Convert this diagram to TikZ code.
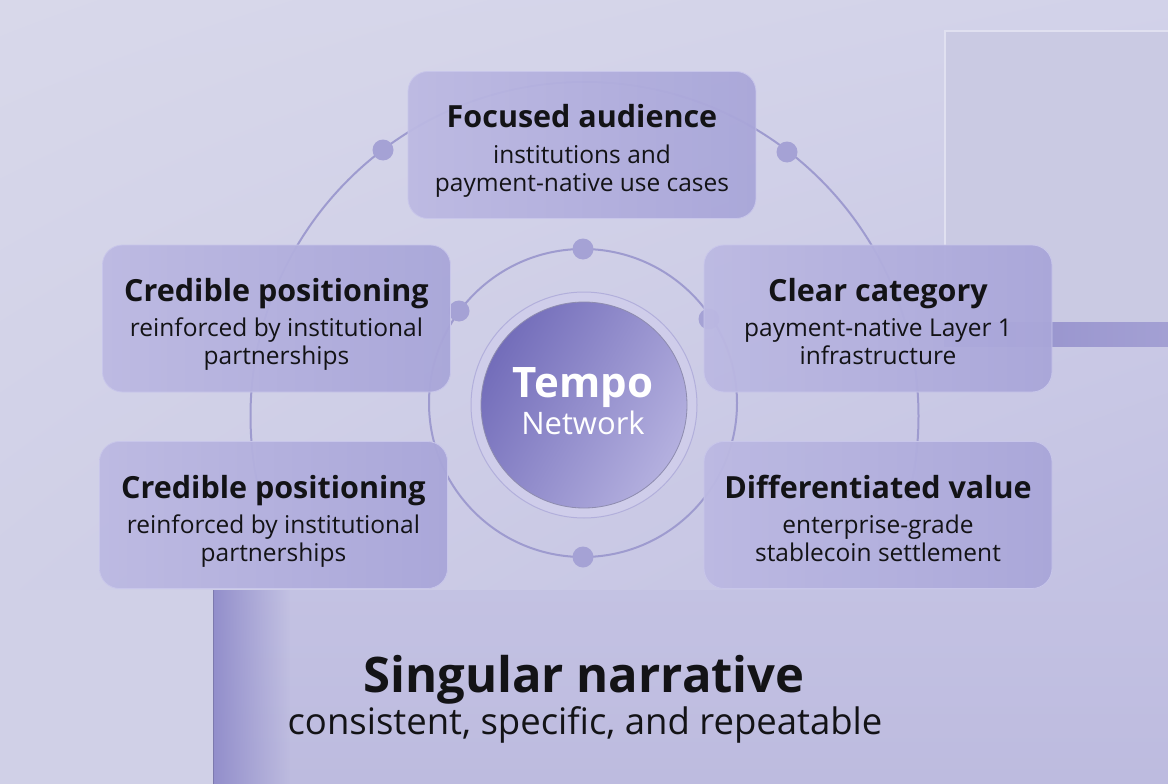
\documentclass[tikz,border=0pt]{standalone}
\usepackage{fontspec}
\setmainfont{Open Sans}
\usetikzlibrary{calc,shadings,fadings}
\definecolor{bgTL}{HTML}{D8D8EA}
\definecolor{bgTR}{HTML}{D2D2E9}
\definecolor{bgBL}{HTML}{CDCDE6}
\definecolor{bgBR}{HTML}{BDBBE0}
\definecolor{panelA}{HTML}{CACAE3}
\definecolor{panelB}{HTML}{BDBBDF}
\definecolor{panelEdge}{HTML}{E0E0F0}
\definecolor{shadowc}{HTML}{928ECB}
\definecolor{ringc}{HTML}{9E9BCF}
\definecolor{dotc}{HTML}{A5A2D5}
\definecolor{cardL}{HTML}{BCB9E2}
\definecolor{cardR}{HTML}{A9A6D9}
\definecolor{cardEdge}{HTML}{C8C6EA}
\definecolor{ink}{HTML}{131316}
\definecolor{rimc}{HTML}{CFCDEA}
\definecolor{rimEdge}{HTML}{B2AFDB}
\definecolor{discA}{HTML}{736DBA}
\definecolor{discB}{HTML}{B4B0DF}
\begin{document}
\begin{tikzpicture}[x=1pt,y=-1pt,
  card/.style={rounded corners=20pt, draw=cardEdge, line width=0.8pt,
    left color=cardL, right color=cardR, fill opacity=0.95,
    minimum width=348pt, minimum height=147pt, inner sep=0pt},
  ttl/.style={anchor=base, text=ink, font=\fontsize{30.5}{34}\selectfont\bfseries},
  sub/.style={anchor=base, text=ink, align=center, font=\fontsize{24.5}{28}\selectfont},
  ringline/.style={draw=ringc, line width=2pt},
  dotn/.style={circle, fill=dotc, minimum size=21pt, inner sep=0pt}
]
\useasboundingbox (0,0) rectangle (1168,784);
% background
\shade[upper left=bgTL, upper right=bgTR, lower left=bgBL, lower right=bgBR] (0,0) rectangle (1168,784);
% top-right panel
\fill[panelA] (944,30) rectangle (1168,322);
\draw[panelEdge, line width=1.6pt] (945,322) -- (945,31) -- (1168,31);
\shade[left color=shadowc, right color=shadowc!60!bgBR] (944,322) rectangle (1168,346);
% bottom-left panel
\fill[bgBL!95!white] (0,590) rectangle (213,784);
\shade[top color=bgBR!70!bgTR, bottom color=panelB] (213,590) rectangle (1168,784);
\fill[shadowc, path fading=east] (213,590) rectangle (290,784);
\draw[shadowc!85!black, line width=1pt] (213.5,590) -- (213.5,784);
% outer ring (upper part)
\begin{scope}
  \clip (0,0) rectangle (1168,500);
  \draw[ringline] (584.5,416) circle[radius=334];
\end{scope}
\node[dotn] (od1) at (383,150) {};
\node[dotn] (od2) at (787,152) {};
% inner ring
\draw[ringline] (583,403) circle[radius=154];
\node[dotn] (id1) at (583,249) {};
\node[dotn] (id2) at (583,557) {};
\node[dotn] (id3) at (459,311) {};
\node[dotn] (id4) at (709,319) {};
% centre disc
\node[circle, minimum size=226pt, fill=rimc, draw=rimEdge, line width=1pt] (rim) at (584,405) {};
\node[circle, minimum size=206pt, left color=discA, right color=discB, shading angle=60, draw=rimEdge!80!black, line width=0.8pt] (disc) at (584,405) {};
\node[anchor=base, text=white, font=\fontsize{42}{46}\selectfont\bfseries] (tempo) at (583,397) {Tempo};
\node[anchor=base, text=white, font=\fontsize{31}{34}\selectfont] (network) at (583,434) {Network};
% cards
\node[card] (top) at (582,145) {};
\node[card] (lu) at (276.5,318.5) {};
\node[card] (ru) at (878,318.5) {};
\node[card] (ll) at (273.5,515) {};
\node[card] (rl) at (878,515) {};
% card texts
\node[ttl] (topT) at ($(top.center)+(0,-17)$) {Focused audience};
\node[sub] (topS) at ($(top.center)+(0,46)$) {institutions and\\payment-native use cases};
\node[ttl] (luT) at ($(lu.center)+(0,-17)$) {Credible positioning};
\node[sub] (luS) at ($(lu.center)+(0,46)$) {reinforced by institutional\\partnerships};
\node[ttl] (ruT) at ($(ru.center)+(0,-17)$) {Clear category};
\node[sub] (ruS) at ($(ru.center)+(0,46)$) {payment-native Layer 1\\infrastructure};
\node[ttl] (llT) at ($(ll.center)+(0,-17)$) {Credible positioning};
\node[sub] (llS) at ($(ll.center)+(0,46)$) {reinforced by institutional\\partnerships};
\node[ttl] (rlT) at ($(rl.center)+(0,-17)$) {Differentiated value};
\node[sub] (rlS) at ($(rl.center)+(0,46)$) {enterprise-grade\\stablecoin settlement};
% bottom
\node[anchor=base, text=ink, font=\fontsize{49}{56}\selectfont\bfseries] (sing) at (584,692) {Singular narrative};
\node[anchor=base, text=ink, font=\fontsize{36.5}{40}\selectfont] (cons) at (585,734) {consistent, specific, and repeatable};
\end{tikzpicture}
\end{document}
